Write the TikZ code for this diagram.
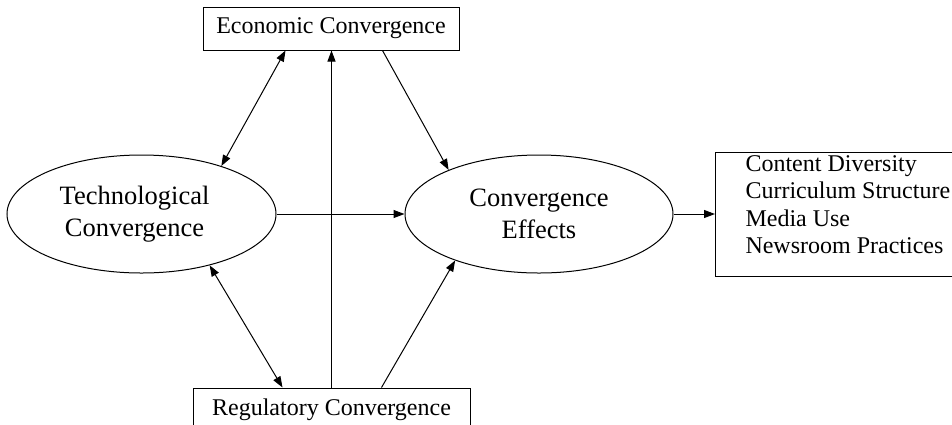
\documentclass[tikz,border=0pt]{standalone}
\usepackage{fontspec}
\setmainfont{Liberation Serif}
\usetikzlibrary{arrows.meta,calc,shapes.geometric}
\begin{document}
\begin{tikzpicture}[x=1pt,y=-1pt,
  line width=1pt,
  boxnode/.style={draw, rectangle, inner sep=0pt, font=\fontsize{24}{28}\selectfont},
  ellnode/.style={draw, ellipse, inner sep=0pt, minimum width=269pt, minimum height=118pt, align=center, font=\fontsize{26.5}{32}\selectfont},
  arr/.style={-{Triangle[length=11pt,width=8pt]}},
  dbl/.style={{Triangle[length=11pt,width=8pt]}-{Triangle[length=11pt,width=8pt]}}]
\useasboundingbox (0,0) rectangle (952,424);
\clip (0,0) rectangle (952,424);
\node[boxnode, minimum width=256pt, minimum height=43pt] (econ) at (331,28.5) {Economic Convergence};
\node[boxnode, minimum width=277pt, minimum height=43pt] (reg) at (331.5,409.5) {Regulatory Convergence};
\node[ellnode] (tech) at (141.5,214) {\hspace*{-14pt}Technological\\\hspace*{-14pt}Convergence};
\node[ellnode, minimum width=268pt] (eff) at (539,214) {Convergence\\Effects};
\node[draw, rectangle, anchor=north west, minimum width=260pt, minimum height=124pt, inner sep=0pt] (out) at (715,152) {};
\node[anchor=north west, inner sep=0pt, align=left, font=\fontsize{24}{27.5}\selectfont] (outtxt) at (745,155) {Content Diversity\\Curriculum Structure\\Media Use\\Newsroom Practices};
\draw[dbl] ($(econ.south west)+(83,0)$) -- (tech.31);
\draw[arr] ($(econ.south west)+(180,0)$) -- (eff.154);
\draw[arr] (tech.east) -- (eff.west);
\draw[arr] (reg.north) -- (reg.north |- econ.south);
\draw[dbl] (tech.-37) -- ($(reg.north west)+(90,0)$);
\draw[arr] ($(reg.north west)+(189,0)$) -- (eff.209);
\draw[arr] (eff.east) -- (eff.east -| out.west);
\end{tikzpicture}
\end{document}
